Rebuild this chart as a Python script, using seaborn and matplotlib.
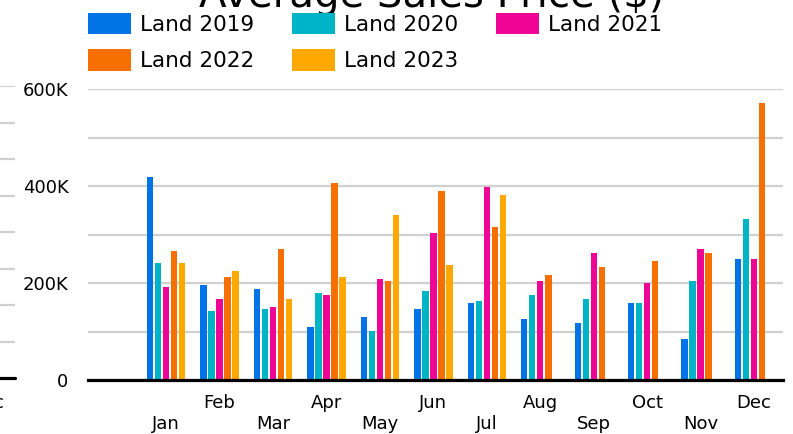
import matplotlib
matplotlib.use("Agg")
import matplotlib.pyplot as plt
import numpy as np
import pandas as pd
import seaborn as sns

months = ["Jan", "Feb", "Mar", "Apr", "May", "Jun", "Jul", "Aug", "Sep", "Oct", "Nov", "Dec"]
series_names = ["Land 2019", "Land 2020", "Land 2021", "Land 2022", "Land 2023"]
land_2019 = [419000, 196000, 188000, 109000, 130000, 146000, 159000, 126000, 117000, 159000, 85000, 249000]
land_2020 = [241000, 142000, 146000, 179000, 101000, 183000, 163000, 175000, 167000, 159000, 204000, 332000]
land_2021 = [192000, 167000, 150000, 175000, 208000, 303000, 398000, 204000, 262000, 200000, 270000, 249000]
land_2022 = [266000, 212000, 270000, 406000, 204000, 390000, 315000, 216000, 233000, 245000, 262000, 571000]
land_2023 = [241000, 225000, 167000, 212000, 340000, 237000, 381000, None, None, None, None, None]
y_ticks = [0, 200000, 400000, 600000]
y_tick_labels = ["0", "200K", "400K", "600K"]
colors = ["#0073E6", "#00B4C8", "#EE0596", "#F57000", "#FFA800"]

rows = []
for name, vals in zip(series_names, [land_2019, land_2020, land_2021, land_2022, land_2023]):
    for m, v in zip(months, vals):
        rows.append({"month": m, "series": name, "value": np.nan if v is None else v})
df = pd.DataFrame(rows)

sns.set_style("white")
plt.rcParams["font.family"] = ["DejaVu Sans"]
plt.rcParams["text.color"] = "black"
plt.rcParams["xtick.color"] = "black"
plt.rcParams["ytick.color"] = "black"

W, H = 793, 434
fig = plt.figure(figsize=(W / 100, H / 100), dpi=100)

def fx(px):
    return px / W

def fy(py):
    return 1 - py / H

ax = fig.add_axes([fx(88), fy(380), fx(783) - fx(88), fy(89) - fy(380)])
sns.barplot(data=df.dropna(), x="month", y="value", hue="series", order=months,
            hue_order=series_names, palette=colors, errorbar=None, width=0.75,
            gap=0.2, ax=ax, legend=True, saturation=1, linewidth=0)

ax.set_xlim(-1.46, 11.54)
ax.set_ylim(0, 600000)
ax.set_yticks(y_ticks)
ax.set_yticklabels(y_tick_labels, fontsize=13, color="black")
ax.set_yticks([100000, 300000, 500000], minor=True)
ax.grid(True, axis="y", which="both", color="#d0d0d0", linewidth=1.6)
ax.set_axisbelow(True)
ax.tick_params(axis="y", which="both", length=0, pad=14)
ax.set_xticks(range(len(months)))
ax.set_xticklabels([("\n" + m) if i % 2 == 0 else m for i, m in enumerate(months)], fontsize=13,
                   linespacing=1.25, color="black")
ax.tick_params(axis="x", length=0, pad=10)
ax.set_xlabel("")
ax.set_ylabel("")
for s in ["top", "right", "left"]:
    ax.spines[s].set_visible(False)
ax.spines["bottom"].set_color("black")
ax.spines["bottom"].set_linewidth(2.3)
ax.spines["bottom"].set_zorder(5)

handles, labels = ax.get_legend_handles_labels()
ax.legend_.remove()
order = [0, 3, 1, 4, 2]
fig.legend([handles[i] for i in order], [labels[i] for i in order], loc="upper left",
           bbox_to_anchor=(fx(88), fy(13)),
           ncol=3, frameon=False, fontsize=15.5, handlelength=2.0, handleheight=1.15,
           handletextpad=0.42, columnspacing=1.75, labelspacing=0.66, borderpad=0,
           borderaxespad=0, labelcolor="black")

fig.text(fx(432), fy(7), "Average Sales Price ($)", fontsize=29, ha="center", va="baseline",
         color="black")

# partial neighbouring chart at the left edge
ax2 = fig.add_axes([0, fy(378), fx(15), fy(86) - fy(378)])
ax2.set_xlim(0, 1)
ax2.set_ylim(0, 8)
for k in range(1, 9):
    ax2.axhline(k, color="#d0d0d0", linewidth=1.6)
ax2.axhline(0, color="black", linewidth=2.3, clip_on=False)
ax2.axis("off")
fig.text(fx(4.5), fy(403), "Dec", fontsize=13, ha="right", va="center", color="black")

fig.savefig("out.png", dpi=100)
